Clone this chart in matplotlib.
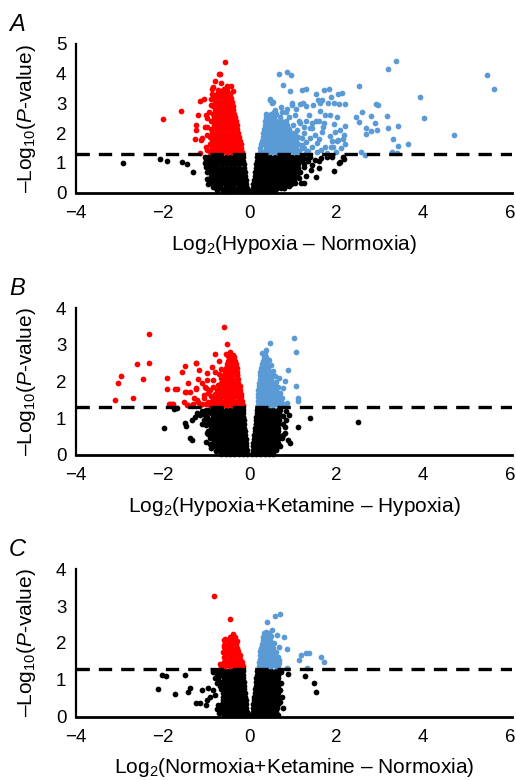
import matplotlib
matplotlib.use("Agg")
import matplotlib.pyplot as plt

plt.rcParams["font.family"] = ["Liberation Sans", "DejaVu Sans"]
plt.rcParams["mathtext.fontset"] = "custom"
plt.rcParams["mathtext.rm"] = "Liberation Sans"
plt.rcParams["mathtext.it"] = "Liberation Sans:italic"

RED = "#ff0000"
BLUE = "#5b9bd5"
BLACK = "#000000"
THRESH = 1.3  # -log10(0.05)

# ---------------- panel A: Hypoxia - Normoxia ----------------
# dense core, read row by row: (y, [x, ...])
A_red_rows = [
    (1.36, [-0.92, -0.82, -0.72, -0.62, -0.52, -0.42, -0.32, -0.22, -0.17]),
    (1.49, [-0.87, -0.77, -0.67, -0.57, -0.47, -0.37, -0.27, -0.19]),
    (1.62, [-0.92, -0.82, -0.72, -0.62, -0.52, -0.42, -0.32, -0.22, -0.20]),
    (1.75, [-0.87, -0.77, -0.67, -0.57, -0.47, -0.37, -0.27, -0.22]),
    (1.88, [-0.92, -0.82, -0.72, -0.62, -0.52, -0.42, -0.32, -0.24]),
    (2.01, [-0.87, -0.77, -0.67, -0.57, -0.47, -0.37, -0.27]),
    (2.14, [-0.88, -0.78, -0.68, -0.58, -0.48, -0.38, -0.28]),
    (2.27, [-0.83, -0.73, -0.63, -0.53, -0.43, -0.33, -0.30]),
    (2.40, [-0.88, -0.78, -0.68, -0.58, -0.48, -0.38, -0.31]),
    (2.53, [-0.83, -0.73, -0.63, -0.53, -0.43, -0.33]),
    (2.66, [-0.84, -0.74, -0.64, -0.54, -0.44, -0.35]),
    (2.79, [-0.79, -0.69, -0.59, -0.49, -0.39, -0.37]),
    (2.92, [-0.84, -0.74, -0.64, -0.54, -0.44, -0.39]),
    (3.05, [-0.79, -0.69, -0.59, -0.49, -0.41]),
    (3.18, [-0.80, -0.70, -0.60, -0.50, -0.42]),
    (3.31, [-0.75, -0.65, -0.55, -0.45]),
    (3.44, [-0.72, -0.62, -0.52]),
]
A_blue_rows = [
    (1.36, [0.24, 0.32, 0.42, 0.52, 0.62, 0.72, 0.82, 0.92, 1.02, 1.12]),
    (1.49, [0.25, 0.37, 0.47, 0.57, 0.67, 0.77, 0.87, 0.97, 1.07, 1.20]),
    (1.62, [0.27, 0.32, 0.42, 0.52, 0.62, 0.72, 0.82, 0.92, 1.02, 1.12]),
    (1.75, [0.28, 0.37, 0.47, 0.57, 0.67, 0.77, 0.87, 0.97, 1.07]),
    (1.88, [0.30, 0.42, 0.52, 0.62, 0.72, 0.82, 0.92, 1.02, 1.12]),
    (2.01, [0.32, 0.37, 0.47, 0.57, 0.67, 0.77, 0.87, 0.97, 1.05]),
    (2.14, [0.33, 0.42, 0.52, 0.62, 0.72, 0.82, 0.92]),
    (2.27, [0.35, 0.47, 0.57, 0.67, 0.77, 0.87, 1.00]),
    (2.40, [0.36, 0.42, 0.52, 0.62, 0.72, 0.85]),
    (2.53, [0.38, 0.47, 0.57, 0.70, 0.90]),
    (2.66, [0.39, 0.50, 0.62]),
]
A_black_rows = [
    (0.04, [-0.62, -0.52, -0.42, -0.32, -0.22, -0.12, -0.02, 0.08, 0.18, 0.28, 0.38, 0.48, 0.58]),
    (0.17, [-0.77, -0.67, -0.57, -0.47, -0.37, -0.27, -0.17, -0.07, 0.07, 0.13, 0.23, 0.33, 0.43, 0.53, 0.63, 0.73, 0.80]),
    (0.30, [-0.85, -0.75, -0.65, -0.55, -0.45, -0.35, -0.25, -0.15, -0.08, 0.09, 0.18, 0.28, 0.38, 0.48, 0.58, 0.68, 0.78, 0.88, 0.95]),
    (0.43, [-0.88, -0.80, -0.70, -0.60, -0.50, -0.40, -0.30, -0.20, -0.09, 0.10, 0.13, 0.23, 0.33, 0.43, 0.53, 0.63, 0.73, 0.83, 0.93, 1.03]),
    (0.56, [-0.90, -0.85, -0.75, -0.65, -0.55, -0.45, -0.35, -0.25, -0.15, -0.10, 0.12, 0.18, 0.28, 0.38, 0.48, 0.58, 0.68, 0.78, 0.88, 0.98, 1.08]),
    (0.69, [-0.92, -0.80, -0.70, -0.60, -0.50, -0.40, -0.30, -0.20, -0.11, 0.13, 0.23, 0.33, 0.43, 0.53, 0.63, 0.73, 0.83, 0.93, 1.03, 1.12]),
    (0.82, [-0.92, -0.85, -0.75, -0.65, -0.55, -0.45, -0.35, -0.25, -0.12, 0.14, 0.18, 0.28, 0.38, 0.48, 0.58, 0.68, 0.78, 0.88, 0.98, 1.08, 1.12]),
    (0.95, [-0.94, -0.84, -0.74, -0.64, -0.54, -0.44, -0.34, -0.24, -0.13, 0.155, 0.23, 0.33, 0.43, 0.53, 0.63, 0.73, 0.83, 0.93, 1.03, 1.12]),
    (1.08, [-0.94, -0.89, -0.79, -0.69, -0.59, -0.49, -0.39, -0.29, -0.19, -0.14, 0.17, 0.22, 0.32, 0.42, 0.52, 0.62, 0.72, 0.82, 0.92, 1.02, 1.12]),
    (1.21, [-0.95, -0.85, -0.75, -0.65, -0.55, -0.45, -0.35, -0.25, -0.15, 0.18, 0.28, 0.38, 0.48, 0.58, 0.68, 0.78, 0.88, 0.98, 1.08, 1.15]),
]
# scattered genes, (x, y)
A_red_pts = [
    (-0.56, 4.40), (-0.68, 4.00), (-0.71, 3.99), (-0.79, 3.76), (-0.85, 3.56), (-0.87, 3.47),
    (-0.65, 3.68), (-0.51, 3.60), (-0.43, 3.58), (-0.37, 3.43), (-0.60, 3.48), (-0.70, 3.40),
    (-1.06, 3.14), (-1.14, 3.08), (-1.58, 2.75), (-1.99, 2.47), (-1.23, 2.27), (-1.23, 2.10),
    (-1.25, 1.82), (-1.10, 1.85), (-1.12, 1.78), (-1.14, 1.35), (-0.87, 3.32), (-0.98, 2.50),
    (-0.99, 2.20), (-0.99, 1.95), (-1.00, 1.55), (-0.97, 1.43), (-1.19, 2.61), (-1.00, 2.61),
    (-1.02, 2.22), (-0.90, 2.95), (-0.88, 3.15), (-0.94, 2.70),
]
A_blue_pts = [
    (0.68, 3.99), (0.86, 4.07), (0.96, 3.96), (0.77, 3.62), (0.94, 3.43), (1.31, 3.47),
    (1.54, 3.31), (1.82, 3.47), (2.13, 3.34), (2.52, 3.58), (3.20, 4.17), (3.37, 4.43),
    (5.48, 3.96), (5.64, 3.47), (3.92, 3.22), (4.03, 2.50), (4.71, 1.95), (2.21, 2.97),
    (1.94, 3.00), (1.66, 3.11), (1.88, 3.22), (2.92, 2.97), (2.96, 2.95), (2.60, 2.70),
    (2.81, 2.57), (2.46, 2.53), (3.16, 2.57), (2.52, 2.39), (2.90, 2.35), (3.20, 2.17),
    (3.43, 2.24), (2.69, 2.16), (2.79, 2.08), (2.69, 1.96), (2.94, 2.10), (3.31, 1.81),
    (3.43, 1.57), (3.65, 1.63), (3.29, 1.36), (3.40, 1.34), (2.56, 1.38), (2.67, 1.26),
    (0.98, 3.00), (1.08, 2.83), (1.23, 3.00), (1.31, 2.90), (1.46, 2.94), (1.63, 3.00),
    (1.36, 2.61), (1.62, 2.75), (1.86, 2.61), (2.02, 2.55), (1.54, 2.41), (1.71, 2.33),
    (1.94, 2.30), (2.08, 2.10), (2.17, 1.94), (2.21, 1.63), (2.02, 1.74), (1.85, 1.90),
    (1.67, 2.05), (1.40, 2.19), (1.17, 2.33), (2.10, 1.49), (1.93, 1.52), (1.74, 1.52),
    (1.55, 1.66), (1.40, 1.83), (1.26, 2.00), (1.78, 1.33), (2.00, 1.38), (0.48, 3.11),
    (0.51, 3.02), (0.56, 2.72), (0.75, 2.72), (0.86, 2.83), (0.99, 2.96), (1.05, 2.60),
    (1.22, 3.46), (1.16, 2.97), (1.57, 3.10), (1.72, 3.44), (1.80, 3.00), (2.03, 3.33),
    (2.07, 2.97), (1.75, 2.60), (1.60, 2.41), (1.43, 2.19), (1.31, 2.41), (1.96, 2.04),
    (2.03, 1.76), (1.88, 1.53), (0.46, 3.14), (0.54, 3.06), (0.58, 2.78), (0.73, 2.89),
    (0.54, 2.61), (0.85, 2.72), (1.15, 1.40), (1.25, 1.50), (1.35, 1.40), (1.45, 1.55),
    (1.30, 1.70), (1.20, 1.85), (1.50, 1.95), (1.60, 1.80), (1.10, 2.10), (1.25, 2.20),
    (1.45, 2.35), (1.65, 1.45), (1.30, 1.35), (1.55, 1.38), (1.90, 1.75), (1.20, 1.60),
    (1.15, 2.40), (1.70, 2.20), (2.15, 1.80), (2.20, 2.25),
]
A_black_pts = [
    (-2.91, 0.99), (-2.06, 1.12), (-1.90, 1.07), (-1.55, 1.04), (-1.45, 0.96), (-1.31, 0.68),
    (-0.98, 0.45), (-1.02, 0.99), (-1.00, 0.87), (-1.02, 1.20), (-1.00, 1.10), (-0.98, 0.70),
    (-0.95, 0.30), (-0.85, 0.20), (-0.75, 0.10), (2.15, 1.19), (2.06, 1.01),
    (1.95, 0.74), (1.19, 0.34), (1.04, 0.34), (1.42, 0.76), (2.08, 1.04), (2.17, 1.14),
    (1.59, 0.82), (1.53, 0.52), (1.25, 0.34), (1.44, 0.93), (1.26, 0.96), (1.78, 1.20),
    (1.20, 1.20), (1.30, 1.15), (1.35, 1.05), (1.25, 0.85), (1.17, 0.70), (1.40, 1.20),
    (1.50, 1.10), (1.65, 1.18), (1.30, 0.55), (1.15, 0.50), (0.90, 0.22), (0.80, 0.14),
    (1.20, 1.05), (1.60, 1.05), (1.90, 1.20), (1.10, 0.60), (1.00, 0.40),
]

# ---------------- panel B: Hypoxia+Ketamine - Hypoxia ----------------
B_red_rows = [
    (1.37, [-0.92, -0.82, -0.72, -0.62, -0.52, -0.42, -0.32, -0.22, -0.16]),
    (1.47, [-0.87, -0.77, -0.67, -0.57, -0.47, -0.37, -0.27, -0.18]),
    (1.57, [-0.85, -0.75, -0.65, -0.55, -0.45, -0.35, -0.25, -0.19]),
    (1.67, [-0.80, -0.70, -0.60, -0.50, -0.40, -0.30, -0.20]),
    (1.77, [-0.75, -0.65, -0.55, -0.45, -0.35, -0.25, -0.22]),
    (1.87, [-0.70, -0.60, -0.50, -0.40, -0.30, -0.23]),
    (1.97, [-0.66, -0.56, -0.46, -0.36, -0.26]),
    (2.07, [-0.62, -0.52, -0.42, -0.32, -0.26]),
    (2.17, [-0.60, -0.50, -0.40, -0.30, -0.28]),
    (2.27, [-0.57, -0.47, -0.37, -0.29]),
    (2.37, [-0.55, -0.45, -0.35, -0.30]),
    (2.47, [-0.52, -0.42, -0.32]),
    (2.57, [-0.50, -0.40, -0.33]),
    (2.67, [-0.45, -0.35]),
]
B_blue_rows = [
    (1.37, [0.19, 0.25, 0.35, 0.45, 0.55, 0.65]),
    (1.47, [0.19, 0.30, 0.40, 0.50, 0.60, 0.66]),
    (1.57, [0.20, 0.25, 0.35, 0.45, 0.55, 0.63]),
    (1.67, [0.20, 0.30, 0.40, 0.50, 0.60]),
    (1.77, [0.20, 0.25, 0.35, 0.45, 0.55, 0.60]),
    (1.87, [0.21, 0.30, 0.40, 0.50, 0.56]),
    (1.97, [0.22, 0.25, 0.35, 0.45, 0.54]),
    (2.07, [0.23, 0.30, 0.40, 0.50]),
    (2.17, [0.24, 0.35, 0.45, 0.50]),
    (2.27, [0.25, 0.30, 0.40, 0.47]),
    (2.37, [0.27, 0.35, 0.43]),
    (2.47, [0.28, 0.38]),
    (2.57, [0.30, 0.40]),
    (2.67, [0.33, 0.38]),
]
B_black_rows = [
    (0.04, [-0.65, -0.55, -0.45, -0.35, -0.25, -0.15, -0.05, 0.05, 0.15, 0.25, 0.35, 0.45, 0.55]),
    (0.14, [-0.75, -0.70, -0.60, -0.50, -0.40, -0.30, -0.20, -0.10, -0.07, 0.07, 0.10, 0.20, 0.30, 0.40, 0.50, 0.60]),
    (0.24, [-0.80, -0.75, -0.65, -0.55, -0.45, -0.35, -0.25, -0.15, -0.08, 0.08, 0.15, 0.25, 0.35, 0.45, 0.55, 0.62]),
    (0.34, [-0.82, -0.70, -0.60, -0.50, -0.40, -0.30, -0.20, -0.09, 0.09, 0.20, 0.30, 0.40, 0.50, 0.60, 0.65]),
    (0.44, [-0.85, -0.75, -0.65, -0.55, -0.45, -0.35, -0.25, -0.15, -0.09, 0.10, 0.15, 0.25, 0.35, 0.45, 0.55, 0.65]),
    (0.54, [-0.85, -0.80, -0.70, -0.60, -0.50, -0.40, -0.30, -0.20, -0.10, 0.11, 0.20, 0.30, 0.40, 0.50, 0.60, 0.66]),
    (0.64, [-0.87, -0.75, -0.65, -0.55, -0.45, -0.35, -0.25, -0.15, -0.11, 0.12, 0.15, 0.25, 0.35, 0.45, 0.55, 0.65]),
    (0.74, [-0.90, -0.80, -0.70, -0.60, -0.50, -0.40, -0.30, -0.20, -0.12, 0.13, 0.20, 0.30, 0.40, 0.50, 0.60, 0.66]),
    (0.84, [-0.92, -0.85, -0.75, -0.65, -0.55, -0.45, -0.35, -0.25, -0.15, -0.125, 0.14, 0.15, 0.25, 0.35, 0.45, 0.55, 0.65]),
    (0.94, [-0.95, -0.90, -0.80, -0.70, -0.60, -0.50, -0.40, -0.30, -0.20, -0.13, 0.15, 0.20, 0.30, 0.40, 0.50, 0.60, 0.67]),
    (1.04, [-0.98, -0.85, -0.75, -0.65, -0.55, -0.45, -0.35, -0.25, -0.15, -0.14, 0.16, 0.25, 0.35, 0.45, 0.55, 0.65]),
    (1.14, [-1.00, -0.90, -0.80, -0.70, -0.60, -0.50, -0.40, -0.30, -0.20, -0.15, 0.17, 0.20, 0.30, 0.40, 0.50, 0.60, 0.68]),
    (1.23, [-1.00, -0.95, -0.85, -0.75, -0.65, -0.55, -0.45, -0.35, -0.25, -0.16, 0.18, 0.25, 0.35, 0.45, 0.55, 0.65, 0.70]),
]
B_red_pts = [
    (-0.60, 3.48), (-0.52, 3.02), (-0.79, 2.74), (-0.49, 2.70), (-0.42, 2.65), (-1.23, 2.50),
    (-1.48, 2.43), (-0.87, 2.41), (-1.16, 2.32), (-1.56, 2.27), (-0.66, 2.11), (-0.61, 2.11),
    (-0.98, 2.04), (-1.18, 2.07), (-1.91, 2.09), (-1.91, 1.79), (-1.72, 1.80), (-1.68, 1.80),
    (-1.48, 1.72), (-1.37, 1.71), (-1.24, 1.82), (-1.02, 1.84), (-0.91, 1.77), (-1.06, 1.63),
    (-1.29, 1.54), (-1.52, 1.45), (-1.83, 1.38), (-1.76, 1.38), (-1.18, 1.44), (-0.95, 1.45),
    (-0.75, 1.63), (-0.72, 1.91), (-2.31, 3.29), (-2.60, 2.48), (-2.31, 2.50),
    (-2.97, 2.15), (-3.03, 1.95), (-2.46, 2.06), (-2.68, 1.56), (-3.10, 1.50), (-1.86, 1.39),
    (-1.78, 1.39), (-1.24, 2.52), (-0.98, 2.24), (-1.43, 1.97), (-1.23, 1.79), (-1.46, 1.73),
    (-1.45, 1.35), (-1.41, 1.35), (-1.22, 1.50), (-1.15, 1.36), (-1.00, 1.83), (-0.95, 1.68),
    (-1.10, 1.40), (-1.05, 1.55), (-0.90, 1.60), (-1.30, 1.40), (-0.85, 1.85), (-0.70, 2.20),
    (-0.65, 2.35), (-0.55, 2.75), (-0.45, 2.80), (-0.38, 2.72), (-0.70, 2.55), (-1.00, 1.38),
    (-0.85, 2.05), (-0.80, 2.25), (-1.10, 1.95),
]
B_blue_pts = [
    (0.36, 2.77), (0.28, 2.79), (0.40, 2.59), (1.02, 3.20), (1.07, 2.82), (0.88, 2.32),
    (0.81, 2.02), (1.07, 1.88), (0.75, 1.56), (0.86, 1.41), (1.11, 1.55), (1.11, 1.48),
    (0.48, 3.05), (0.38, 2.85), (0.69, 2.09), (0.78, 1.82), (0.45, 2.60), (0.50, 2.45),
    (0.55, 2.30), (0.58, 2.15), (0.62, 2.00), (0.65, 1.85), (0.70, 1.70), (0.72, 1.45),
    (0.78, 1.38), (0.70, 1.60),
]
B_black_pts = [
    (-1.98, 0.73), (-1.75, 1.25), (-1.68, 1.27), (-1.48, 0.86), (-1.47, 0.80), (-1.37, 0.45),
    (-1.33, 0.41), (-1.33, 0.95), (-1.25, 1.04), (-1.22, 1.14), (-1.14, 1.09), (-0.98, 0.59),
    (-1.02, 1.09), (-1.00, 0.82), (-0.95, 0.56), (-1.00, 0.35), (-0.92, 0.30), (-0.88, 0.20),
    (-1.05, 0.95), (-0.95, 0.65), (-0.92, 0.45), (-0.78, 0.10), (-1.10, 1.20), (-1.10, 0.85),
    (1.40, 1.00), (2.50, 0.89), (0.94, 0.32), (1.12, 0.77), (0.82, 0.77), (0.78, 0.55),
    (0.85, 1.20), (0.84, 0.95), (0.82, 0.60), (0.88, 0.40), (0.70, 0.25), (0.60, 0.15),
    (0.90, 1.10), (0.76, 0.85), (0.76, 1.05), (0.74, 0.45),
]

# ---------------- panel C: Normoxia+Ketamine - Normoxia ----------------
C_red_rows = [
    (1.37, [-0.56, -0.46, -0.36, -0.26, -0.16]),
    (1.47, [-0.60, -0.51, -0.41, -0.31, -0.21, -0.18]),
    (1.57, [-0.56, -0.46, -0.36, -0.26, -0.21]),
    (1.67, [-0.55, -0.45, -0.35, -0.25, -0.23]),
    (1.77, [-0.52, -0.42, -0.32, -0.26]),
    (1.87, [-0.50, -0.40, -0.30]),
    (1.97, [-0.50, -0.42, -0.32]),
    (2.07, [-0.47, -0.37]),
    (2.17, [-0.45, -0.38]),
]
C_blue_rows = [
    (1.37, [0.21, 0.30, 0.40, 0.50, 0.60, 0.65]),
    (1.47, [0.22, 0.25, 0.35, 0.45, 0.55, 0.62]),
    (1.57, [0.23, 0.30, 0.40, 0.50, 0.60]),
    (1.67, [0.24, 0.35, 0.45, 0.55]),
    (1.77, [0.25, 0.30, 0.40, 0.50, 0.55]),
    (1.87, [0.26, 0.35, 0.45, 0.53]),
    (1.97, [0.28, 0.38, 0.48]),
    (2.07, [0.30, 0.40, 0.47]),
    (2.17, [0.32, 0.42]),
    (2.27, [0.34, 0.44]),
]
C_black_rows = [
    (0.04, [-0.60, -0.50, -0.40, -0.30, -0.20, -0.10, 0.00, 0.10, 0.20, 0.30, 0.40, 0.50, 0.57]),
    (0.14, [-0.66, -0.55, -0.45, -0.35, -0.25, -0.15, -0.07, 0.07, 0.15, 0.25, 0.35, 0.45, 0.55, 0.60]),
    (0.24, [-0.66, -0.60, -0.50, -0.40, -0.30, -0.20, -0.08, 0.08, 0.20, 0.30, 0.40, 0.50, 0.60, 0.63]),
    (0.34, [-0.64, -0.55, -0.45, -0.35, -0.25, -0.15, -0.09, 0.09, 0.15, 0.25, 0.35, 0.45, 0.55, 0.65]),
    (0.44, [-0.62, -0.50, -0.40, -0.30, -0.20, -0.09, 0.10, 0.20, 0.30, 0.40, 0.50, 0.60, 0.65]),
    (0.54, [-0.62, -0.55, -0.45, -0.35, -0.25, -0.15, -0.10, 0.11, 0.15, 0.25, 0.35, 0.45, 0.55, 0.65]),
    (0.64, [-0.62, -0.50, -0.40, -0.30, -0.20, -0.11, 0.12, 0.20, 0.30, 0.40, 0.50, 0.60, 0.65]),
    (0.74, [-0.65, -0.55, -0.45, -0.35, -0.25, -0.15, -0.12, 0.13, 0.15, 0.25, 0.35, 0.45, 0.55, 0.65]),
    (0.84, [-0.68, -0.60, -0.50, -0.40, -0.30, -0.20, -0.125, 0.14, 0.20, 0.30, 0.40, 0.50, 0.60, 0.65]),
    (0.94, [-0.70, -0.65, -0.55, -0.45, -0.35, -0.25, -0.15, -0.13, 0.15, 0.25, 0.35, 0.45, 0.55, 0.65]),
    (1.04, [-0.72, -0.60, -0.50, -0.40, -0.30, -0.20, -0.14, 0.16, 0.20, 0.30, 0.40, 0.50, 0.60, 0.65]),
    (1.14, [-0.75, -0.65, -0.55, -0.45, -0.35, -0.25, -0.15, 0.17, 0.25, 0.35, 0.45, 0.55, 0.65]),
    (1.23, [-0.78, -0.70, -0.60, -0.50, -0.40, -0.30, -0.20, -0.16, 0.18, 0.20, 0.30, 0.40, 0.50, 0.60, 0.66]),
]
C_red_pts = [
    (-0.81, 3.28), (-0.45, 2.64), (-0.33, 2.17), (-0.37, 2.23), (-0.56, 2.10), (-0.60, 1.88),
    (-0.45, 1.90), (-0.68, 1.43), (-0.66, 1.36), (-0.58, 1.61), (-0.62, 1.75), (-0.60, 1.95),
    (-0.57, 1.72), (-0.58, 2.08), (-0.46, 2.04), (-0.38, 2.17), (-0.30, 2.05),
]
C_blue_pts = [
    (0.40, 2.56), (0.59, 2.74), (0.71, 2.78), (0.38, 2.31), (0.63, 2.22), (0.80, 2.15),
    (0.86, 1.84), (0.69, 1.90), (0.52, 2.36), (1.15, 1.54), (1.19, 1.68), (1.31, 1.72),
    (1.36, 1.74), (1.65, 1.63), (1.72, 1.47), (1.32, 1.33), (0.86, 1.32), (0.67, 1.45),
    (0.65, 1.63), (0.57, 2.00), (0.43, 2.10), (0.35, 2.20), (0.68, 1.55), (0.62, 1.75),
    (0.50, 2.20),
]
C_black_pts = [
    (-2.12, 0.74), (-2.02, 1.13), (-1.93, 1.11), (-1.48, 1.13), (-1.72, 0.62), (-1.38, 0.77),
    (-1.41, 0.66), (-1.10, 0.71), (-1.23, 0.36), (-1.14, 0.38), (-1.01, 0.32), (-0.95, 0.77),
    (-0.85, 0.72), (-0.91, 0.54), (-0.98, 0.45), (-0.79, 0.59), (-0.75, 0.90), (-0.72, 0.32),
    (-0.75, 0.20), (-0.70, 0.10), (-0.85, 1.20), (-0.80, 1.05),
    (0.78, 0.23), (1.28, 1.10), (0.88, 1.16), (1.48, 0.90), (1.53, 0.68), (0.71, 0.72),
    (0.75, 0.54), (0.72, 0.90), (0.72, 1.20), (0.70, 0.40), (0.65, 0.05),
]

panels = [
    ("A", "Log$_2$(Hypoxia – Normoxia)", 5,
     A_black_rows, A_black_pts, A_red_rows, A_red_pts, A_blue_rows, A_blue_pts,
     [0.1473, 0.7530, 0.845, 0.1906]),
    ("B", "Log$_2$(Hypoxia+Ketamine – Hypoxia)", 4,
     B_black_rows, B_black_pts, B_red_rows, B_red_pts, B_blue_rows, B_blue_pts,
     [0.1473, 0.4167, 0.845, 0.1881]),
    ("C", "Log$_2$(Normoxia+Ketamine – Normoxia)", 4,
     C_black_rows, C_black_pts, C_red_rows, C_red_pts, C_blue_rows, C_blue_pts,
     [0.1473, 0.0812, 0.845, 0.1890]),
]


def collect(rows, pts):
    xs, ys = [], []
    for y, xrow in rows:
        xs += xrow
        ys += [y] * len(xrow)
    for x, y in pts:
        xs.append(x)
        ys.append(y)
    return xs, ys


fig = plt.figure(figsize=(5.16, 7.8), dpi=100)

for letter, xlab, ymax, bk_rows, bk_pts, rd_rows, rd_pts, bl_rows, bl_pts, rect in panels:
    ax = fig.add_axes(rect)
    for rows, pts, col in [(bk_rows, bk_pts, BLACK), (rd_rows, rd_pts, RED), (bl_rows, bl_pts, BLUE)]:
        xs, ys = collect(rows, pts)
        ax.scatter(xs, ys, s=17, c=col, linewidths=0, zorder=2, clip_on=False)
    ax.axhline(THRESH, color="black", lw=2.4, linestyle=(0, (4, 2.7)), zorder=3)

    ax.set_xlim(-4, 6.05)
    ax.set_ylim(0, ymax)
    ax.set_xticks([-4, -2, 0, 2, 4, 6])
    ax.set_yticks(range(0, ymax + 1))
    for side in ["top", "right"]:
        ax.spines[side].set_visible(False)
    ax.spines["left"].set_linewidth(1.6)
    ax.spines["bottom"].set_linewidth(2.0)
    ax.tick_params(axis="x", length=0, pad=9, labelsize=13.5)
    ax.tick_params(axis="y", length=0, pad=7, labelsize=13.5)

    ax.set_xlabel(xlab, fontsize=15)
    ax.xaxis.set_label_coords(0.5, -0.27)
    ax.xaxis.label.set_va("top")
    ax.set_ylabel("–Log$_{10}$($P$-value)", fontsize=15)
    ax.yaxis.set_label_coords(-0.087, 0.5)

    fig.text(0.034, rect[1] + rect[3] + 0.0256, letter, fontsize=17, style="italic",
             ha="center", va="center")

fig.savefig("out.png", dpi=100)
